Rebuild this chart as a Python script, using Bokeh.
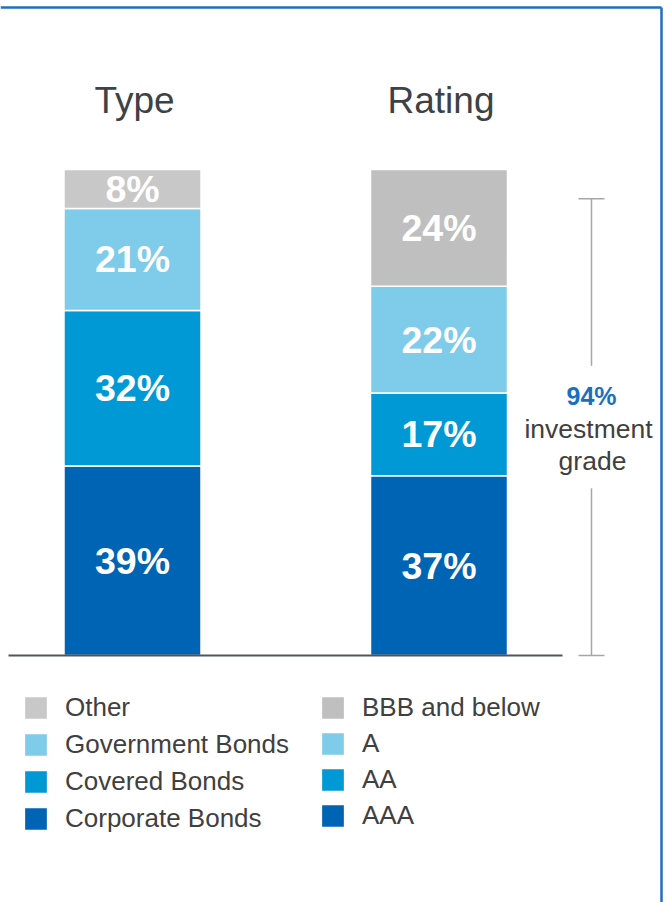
import numpy as np
from bokeh.plotting import figure
from bokeh.models import ColumnDataSource, Range1d, Legend, LegendItem
from bokeh.core.properties import value
from bokeh.embed import file_html
from bokeh.resources import INLINE

# ---------------- data ----------------
CATEGORIES = ["Type", "Rating"]
TYPE_LABELS = ["Corporate Bonds", "Covered Bonds", "Government Bonds", "Other"]
TYPE_VALUES = [39, 32, 21, 8]
RATING_LABELS = ["AAA", "AA", "A", "BBB and below"]
RATING_VALUES = [37, 17, 22, 24]
INVESTMENT_GRADE = 94
INVESTMENT_TEXT = ["investment", "grade"]

TYPE_COLORS = ["#0064B4", "#0099D6", "#7FCBEA", "#C8C8C8"]
RATING_COLORS = ["#0064B4", "#0099D6", "#7FCBEA", "#BFBFBF"]

FONT_NAME = "Liberation Sans"
FONT = value(FONT_NAME)
W, H = 666, 902

# layout (pixel scale helpers)
PX_X = 306.5          # px per category unit
PX_Y = 4.86           # px per percent
X0_PX = 132           # px of category 0 centre from figure left
Y0_PX = 655           # px of 0 % from figure top

p = figure(width=W, height=H, output_backend="svg", toolbar_location=None,
           x_axis_type=None, y_axis_type=None, min_border=0,
           x_range=Range1d(-X0_PX / PX_X, (W - X0_PX) / PX_X),
           y_range=Range1d((Y0_PX - H) / PX_Y, Y0_PX / PX_Y))
p.outline_line_color = None
p.xgrid.visible = False
p.ygrid.visible = False
p.background_fill_color = "white"
p.border_fill_color = "white"

def px_x(px):
    return (px - X0_PX) / PX_X

def px_y(py):
    return (Y0_PX - py) / PX_Y

BAR_W = 137 / PX_X

renderers = []
for i, (vals, cols) in enumerate([(TYPE_VALUES, TYPE_COLORS), (RATING_VALUES, RATING_COLORS)]):
    v = np.array(vals, dtype=float)
    top = np.cumsum(v)
    bottom = top - v
    src = ColumnDataSource(dict(x=[i] * len(v), bottom=bottom, top=top, color=cols,
                                mid=(top + bottom) / 2, txt=[f"{int(a)}%" for a in v]))
    r = p.vbar(x="x", bottom="bottom", top="top", width=BAR_W, fill_color="color",
               line_color="white", line_width=1.5, source=src)
    p.text(x="x", y="mid", text="txt", source=src, text_color="white",
           text_font=FONT, text_font_style="bold", text_font_size="37.5px",
           text_align="center", text_baseline="middle")
    renderers.append(r)

# titles
p.text(x=[c + 2 / PX_X for c in range(len(CATEGORIES))], y=[px_y(100)] * len(CATEGORIES),
       text=CATEGORIES, text_font=FONT, text_font_size="37px", text_color="#3D4247",
       text_align="center", text_baseline="middle")

# baseline
p.segment(x0=[px_x(8)], y0=[0], x1=[px_x(562)], y1=[0],
          line_color="#50565A", line_width=2)

# bracket for investment grade
BX = px_x(591)
CAP = 13 / PX_X
mid = INVESTMENT_GRADE / 2
GAP = 12.6
p.segment(x0=[BX, BX, BX - CAP, BX - CAP], y0=[0, mid + GAP, 0, INVESTMENT_GRADE],
          x1=[BX, BX, BX + CAP, BX + CAP], y1=[mid - GAP, INVESTMENT_GRADE, 0, INVESTMENT_GRADE],
          line_color="#A6A6A6", line_width=1.5)
p.text(x=[BX], y=[px_y(395)], text=[f"{INVESTMENT_GRADE}%"],
       text_font=FONT, text_font_style="bold", text_font_size="25px",
       text_color="#1B6FBF", text_align="center", text_baseline="middle")
p.text(x=[px_x(588), px_x(592)], y=[px_y(428), px_y(460)], text=INVESTMENT_TEXT,
       text_font=FONT, text_font_size="26.5px", text_color="#404040",
       text_align="center", text_baseline="middle")

# frame border (top and right)
p.segment(x0=[p.x_range.start, px_x(661)], y0=[px_y(7), px_y(7)],
          x1=[px_x(661), px_x(661)], y1=[px_y(7), p.y_range.start],
          line_color="#1F6FBF", line_width=2.5)

# legends
def make_legend(r, labels, loc, spacing, standoff):
    items = [LegendItem(label=labels[k], renderers=[r], index=k) for k in reversed(range(len(labels)))]
    lg = Legend(items=items, location=loc, orientation="vertical",
                glyph_width=29, glyph_height=29, spacing=spacing, label_standoff=standoff,
                label_text_font=FONT_NAME, label_text_font_size="26px",
                label_text_color="#404040", padding=0, margin=0,
                border_line_color=None, background_fill_alpha=0)
    p.add_layout(lg, "center")

make_legend(renderers[0], TYPE_LABELS, (21, H - 834), 6, 15)
make_legend(renderers[1], RATING_LABELS, (318, H - 831), 5, 15)

open("out.html", "w").write(file_html(p, INLINE))
